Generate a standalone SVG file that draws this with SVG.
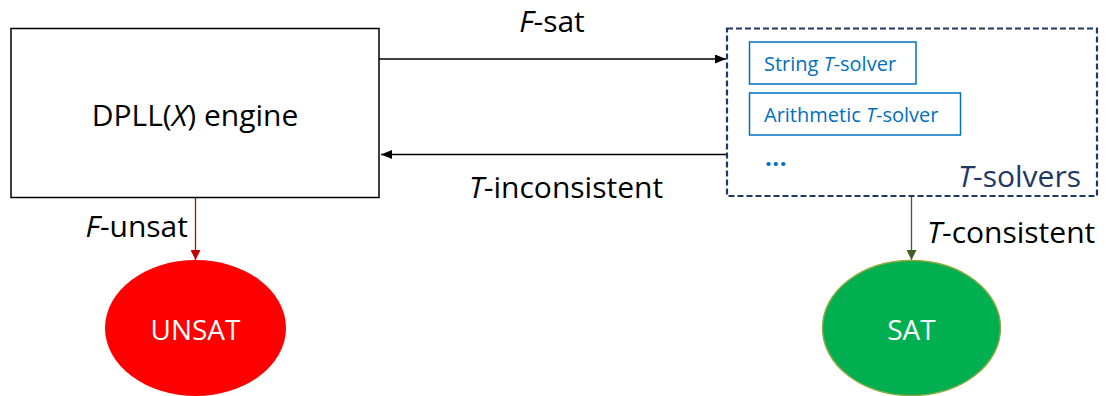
<svg xmlns="http://www.w3.org/2000/svg" width="1106" height="396" viewBox="0 0 1106 396">
<style>
.t{font-family:"Open Sans","Liberation Sans",sans-serif;font-size:30px;fill:#000}
.s{font-family:"Open Sans","Liberation Sans",sans-serif;font-size:20px;fill:#0070C0}
.w{font-family:"Open Sans","Liberation Sans",sans-serif;font-size:28px;fill:#fff}
.i{font-style:italic}
</style>
<defs>
<marker id="ab" markerWidth="11" markerHeight="9" refX="11" refY="4.5" orient="auto" markerUnits="userSpaceOnUse"><path d="M0,0L11,4.5L0,9z" fill="#000"/></marker>
<marker id="ar" markerWidth="10" markerHeight="10" refX="10" refY="5" orient="auto" markerUnits="userSpaceOnUse"><path d="M0,0L10,5L0,10z" fill="#C00000"/></marker>
<marker id="ag" markerWidth="10" markerHeight="10" refX="10" refY="5" orient="auto" markerUnits="userSpaceOnUse"><path d="M0,0L10,5L0,10z" fill="#3F5F24"/></marker>
</defs>
<rect width="1106" height="396" fill="#fff"/>
<g id="connectors" fill="none">
<line x1="379" y1="59" x2="726" y2="59" stroke="#000" stroke-width="1.3" marker-end="url(#ab)"/>
<line x1="726" y1="154.5" x2="381" y2="154.5" stroke="#000" stroke-width="1.3" marker-end="url(#ab)"/>
<line x1="195.5" y1="197" x2="195.5" y2="260" stroke="#C00000" stroke-width="1.3" marker-end="url(#ar)"/>
<line x1="911.5" y1="196" x2="911.5" y2="260" stroke="#3F5F24" stroke-width="1.3" marker-end="url(#ag)"/>
<text class="t" x="552" y="32" text-anchor="middle"><tspan class="i">F</tspan>-sat</text>
<text class="t" x="566" y="198" text-anchor="middle"><tspan class="i">T</tspan>-inconsistent</text>
<text class="t" x="188" y="237" text-anchor="end"><tspan class="i">F</tspan>-unsat</text>
<text class="t" x="927" y="243"><tspan class="i">T</tspan>-consistent</text>
</g>
<g id="dpll">
<rect x="11" y="28.5" width="368" height="169" fill="#fff" stroke="#000" stroke-width="1.5"/>
<text class="t" x="195" y="126" text-anchor="middle">DPLL(<tspan class="i">X</tspan>) engine</text>
</g>
<g id="tsolvers">
<rect x="727" y="28.5" width="370" height="167.5" fill="none" stroke="#1F3864" stroke-width="2.2" stroke-dasharray="6,3"/>
<text class="t" x="1081" y="187" text-anchor="end" style="fill:#1F3864"><tspan class="i">T</tspan>-solvers</text>
</g>
<g id="string-solver">
<rect x="749.5" y="42" width="166.5" height="42" fill="#fff" stroke="#0070C0" stroke-width="1.5"/>
<text class="s" x="764" y="71">String <tspan class="i">T</tspan>-solver</text>
</g>
<g id="arith-solver">
<rect x="749.5" y="93" width="211" height="42" fill="#fff" stroke="#0070C0" stroke-width="1.5"/>
<text class="s" x="764" y="122">Arithmetic <tspan class="i">T</tspan>-solver</text>
</g>
<g id="more-solvers">
<text class="s" x="765" y="166" style="font-size:24px;font-weight:bold;letter-spacing:0.5px">...</text>
</g>
<g id="unsat">
<ellipse cx="195.5" cy="328" rx="90.5" ry="68" fill="#FF0000"/>
<text class="w" x="195.5" y="340" text-anchor="middle">UNSAT</text>
</g>
<g id="sat">
<ellipse cx="911.5" cy="328" rx="89" ry="67.5" fill="#00B050" stroke="#8DA83E" stroke-width="1.5"/>
<text class="w" x="911.5" y="340" text-anchor="middle">SAT</text>
</g>
</svg>
